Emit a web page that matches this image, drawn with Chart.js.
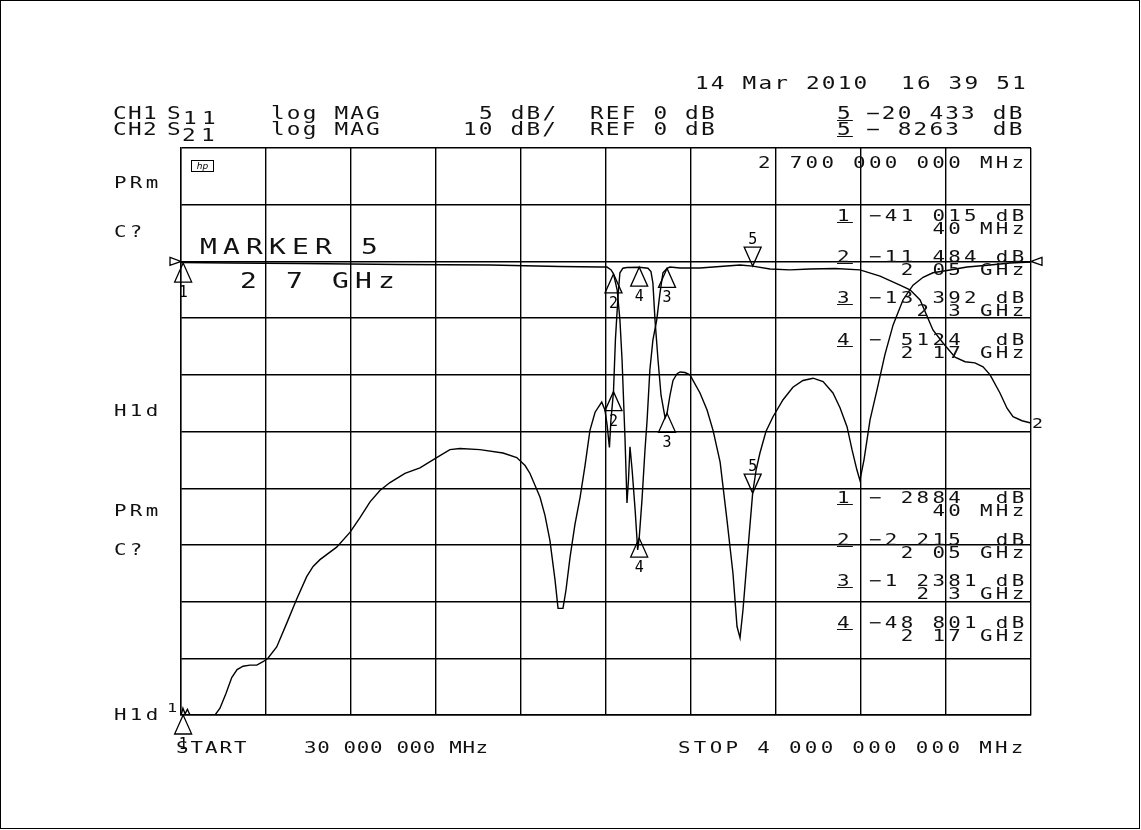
<!DOCTYPE html>
<html>
<head>
<meta charset="utf-8">
<script src="https://cdn.jsdelivr.net/npm/chart.js@4.4.0/dist/chart.umd.min.js"></script>
<style>
  html, body { margin: 0; padding: 0; background: #fff; }
  #wrap { position: relative; width: 1141px; height: 830px; overflow: hidden; }
  #frame { position: absolute; left: 0; top: 0; width: 1138px; height: 827px; border: 1px solid #000; }
  canvas { position: absolute; left: 0; top: 0; }
  .t { position: absolute; font-family: "DejaVu Sans Mono", monospace; white-space: pre; color: #111; transform-origin: 0 0; }
  .u { text-decoration: underline; text-underline-offset: 1px; }
  #hp { position: absolute; left: 191px; top: 160px; width: 21px; height: 10px; border: 1px solid #000;
        font: italic 9px "DejaVu Sans"; line-height: 10px; text-align: center; }
</style>
</head>
<body>
<div id="wrap">
  <canvas id="chart" width="1141" height="830"></canvas>
  <div id="frame"></div>
  <div id="hp">hp</div>
</div>
<script>
// sweep: 30 MHz .. 4 GHz, both traces referenced to 0 dB
const startMHz = 30;
const stopMHz = 4000;

// CH1 S11 (5 dB/div)
const s11Freq = [32, 39, 49, 60, 72, 189, 212, 240, 267, 292, 320, 352, 384, 413, 436, 477, 524, 570, 617, 647,
  679, 757, 819, 866, 913, 959, 1006, 1076, 1146, 1224, 1286, 1333, 1426, 1534, 1598, 1637, 1660, 1707, 1730, 1753,
  1777, 1791, 1814, 1828, 1847, 1870, 1894, 1917, 1940, 1964, 1995, 2010, 2020, 2031, 2038, 2050, 2059, 2071, 2080, 2094,
  2113, 2170, 2211, 2225, 2234, 2244, 2258, 2272, 2291, 2300, 2314, 2328, 2347, 2361, 2384, 2407, 2454, 2487, 2515, 2548,
  2580, 2608, 2627, 2641, 2655, 2674, 2700, 2716, 2734, 2762, 2795, 2842, 2888, 2935, 2982, 3029, 3075, 3108, 3141, 3164,
  3187, 3201, 3220, 3248, 3281, 3318, 3356, 3402, 3449, 3496, 3542, 3622, 3701, 3809, 3902, 4000];
const s11dB = [-39.9, -39.4, -39.9, -39.5, -40, -40, -39.4, -38.1, -36.7, -36.0, -35.7, -35.6, -35.6, -35.3, -35.0, -34.0, -31.9, -29.8, -27.8, -26.9,
  -26.3, -25.2, -23.9, -22.6, -21.2, -20.2, -19.5, -18.7, -18.2, -17.3, -16.6, -16.5, -16.6, -16.9, -17.3, -18.0, -18.7, -20.8, -22.4, -24.6,
  -28.1, -30.6, -30.6, -29.0, -26.1, -23.2, -20.8, -18.0, -14.9, -13.3, -12.4, -13.1, -14.4, -16.4, -14.0, -11.484, -6.9, -3.1, -1.0, -0.6,
  -0.54, -0.5124, -0.6, -0.9, -1.9, -5.2, -8.7, -11.8, -13.8, -13.392, -11.8, -10.5, -9.9, -9.75, -9.8, -10.0, -11.6, -13.1, -14.9, -17.7,
  -22.8, -27.5, -32.2, -33.2, -30.7, -26.3, -20.433, -18.4, -16.9, -15.0, -13.7, -12.2, -11.1, -10.5, -10.3, -10.6, -11.6, -12.9, -14.6, -16.6,
  -18.4, -19.3, -17.5, -14.0, -11.3, -8.2, -5.6, -3.4, -2.1, -1.4, -1.0, -0.76, -0.49, -0.32, -0.14, -0.05];

// CH2 S21 (10 dB/div)
const s21Freq = [30, 259, 586, 1053, 1473, 1800, 1987, 2020, 2039, 2050, 2067, 2080, 2090, 2104, 2113, 2120, 2127, 2137, 2151, 2163,
  2170, 2183, 2197, 2207, 2220, 2234, 2252, 2267, 2281, 2300, 2314, 2361, 2454, 2547, 2641, 2700, 2781, 2874, 2968, 3085,
  3201, 3295, 3388, 3435, 3482, 3542, 3589, 3645, 3692, 3738, 3776, 3809, 3855, 3888, 3916, 3958, 4000];
const s21dB = [-0.19, -0.28, -0.37, -0.55, -0.63, -0.9, -0.99, -1.0, -1.5, -2.215, -5.0, -10.3, -17.4, -31.5, -42.6, -38.5, -32.7, -36.8, -43.8, -50.9,
  -48.801, -42.1, -33.3, -28.0, -19.1, -13.9, -10.3, -5.6, -2.0, -1.2381, -0.99, -1.16, -1.16, -0.9, -0.63, -0.8263, -1.34, -1.5, -1.34, -1.25,
  -1.5, -2.6, -4.2, -5.0, -6.8, -12.1, -14.4, -16.9, -17.7, -17.9, -18.6, -20.0, -23.2, -25.9, -27.4, -28.1, -28.5];

// markers 1..5 (5 is the active one)
const markerFreq = [40, 2050, 2300, 2170, 2700];
const s11Mark = [-41.015, -11.484, -13.392, -0.5124, -20.433];
const s21Mark = [-0.2884, -2.215, -1.2381, -48.801, -0.8263];

// readout text, as printed by the analyser
const ch1Read = ["−41 015 dB", "−11 484 dB", "−13 392 dB", "− 5124  dB"];
const ch2Read = ["− 2884  dB", "−2 215  dB", "−1 2381 dB", "−48 801 dB"];
const freqRead = ["    40 MHz", "  2 05 GHz", "   2 3 GHz", "  2 17 GHz"];

const wrap = document.getElementById("wrap");
// plotter-like text: monospace glyphs stretched sideways, fixed character cell
function put(text, x, capTop, size, cell, cls, k) {
  k = k || 1.3;
  const d = document.createElement("div");
  d.className = "t" + (cls ? " " + cls : "");
  d.textContent = text;
  d.style.left = x + "px";
  d.style.top = (capTop - 0.117 * size) + "px";
  d.style.fontSize = size + "px";
  d.style.lineHeight = size + "px";
  d.style.letterSpacing = (cell / k - 0.602 * size) + "px";
  d.style.transform = "scaleX(" + k + ")";
  wrap.appendChild(d);
}

const C = 15.85;

// header
put("14 Mar 2010  16 39 51", 695, 77, 17.5, C);
put("CH1", 113, 107, 17.5, 15);
put("S", 167, 107, 17.5, C);
put("11", 183, 112, 17.5, 19);
put("log MAG", 271, 107, 17.5, C);
put("5 dB/", 479, 107, 17.5, C);
put("REF 0 dB", 590, 107, 17.5, C);
put("5", 837, 107, 17.5, C, "u");
put("−20 433 dB", 866, 107, 17.5, C);
put("CH2", 113, 123.5, 17.5, 15);
put("S", 167, 123.5, 17.5, C);
put("21", 182, 129, 17.5, 19);
put("log MAG", 271, 123.5, 17.5, C);
put("10 dB/", 463, 123.5, 17.5, C);
put("REF 0 dB", 590, 123.5, 17.5, C);
put("5", 837, 123.5, 17.5, C, "u");
put("− 8263  dB", 866, 123.5, 17.5, C);

// left annotations
put("PRm", 114, 177, 16, C);
put("C?", 114, 226, 16, C);
put("H1d", 114, 405, 16, C);
put("PRm", 114, 505, 16, C);
put("C?", 114, 544, 16, C);
put("H1d", 114, 709, 16, C);
put("1", 167, 703, 13, 10);

// inside graticule
put("2 700 000 000 MHz", 758, 157, 16, C);
put("MARKER 5", 200, 238.5, 21.5, 23);
put("2 7 GHz", 240, 273, 21.5, 23);
put("2", 1032, 418, 14, 10);

const ch1Top = [210, 250.5, 292, 334];
const ch2Top = [492, 533.5, 575, 617];
ch1Read.forEach((s, i) => {
  put(String(i + 1), 837, ch1Top[i], 16, C, "u");
  put(s, 869, ch1Top[i], 16, C);
  put(freqRead[i], 869, ch1Top[i] + 13.3, 16, C);
});
ch2Read.forEach((s, i) => {
  put(String(i + 1), 837, ch2Top[i], 16, C, "u");
  put(s, 869, ch2Top[i], 16, C);
  put(freqRead[i], 869, ch2Top[i] + 13.3, 16, C);
});

// footer
put("START", 176, 742, 16, 14.5);
put("30 000 000 MHz", 304, 742, 16, 13.2);
put("STOP 4 000 000 000 MHz", 678, 742, 16, C);

function drawMarker(ctx, px, py, active, label) {
  ctx.beginPath();
  if (active) {
    ctx.moveTo(px, py);
    ctx.lineTo(px - 8.5, py - 19);
    ctx.lineTo(px + 8.5, py - 19);
  } else {
    ctx.moveTo(px, py);
    ctx.lineTo(px - 8.5, py + 19);
    ctx.lineTo(px + 8.5, py + 19);
  }
  ctx.closePath();
  ctx.stroke();
  ctx.fillText(label, px, active ? py - 22 : py + 34);
}

const markerPlugin = {
  id: "markers",
  afterDatasetsDraw(chart) {
    const { ctx, chartArea: a, scales } = chart;
    ctx.save();
    ctx.strokeStyle = "#000";
    ctx.fillStyle = "#000";
    ctx.lineWidth = 1.3;
    ctx.font = '15px "DejaVu Sans Mono"';
    ctx.textAlign = "center";
    ctx.textBaseline = "alphabetic";
    markerFreq.forEach((f, i) => {
      const px = scales.x.getPixelForValue(f);
      const active = i === markerFreq.length - 1;
      [[scales.y1, s11Mark[i]], [scales.y2, s21Mark[i]]].forEach(([sc, v]) => {
        const py = Math.min(a.bottom, Math.max(a.top, sc.getPixelForValue(v)));
        drawMarker(ctx, px, py, active, String(i + 1));
      });
    });
    // reference position arrows (0 dB)
    const ry = scales.y1.getPixelForValue(0);
    ctx.beginPath();
    ctx.moveTo(a.left - 11, ry - 4);
    ctx.lineTo(a.left, ry);
    ctx.lineTo(a.left - 11, ry + 4);
    ctx.closePath();
    ctx.moveTo(a.right + 11, ry - 4);
    ctx.lineTo(a.right, ry);
    ctx.lineTo(a.right + 11, ry + 4);
    ctx.closePath();
    ctx.stroke();
    ctx.restore();
  }
};

const gridOpts = { color: "#000", lineWidth: 1.4, drawTicks: false };
const borderOpts = { color: "#000", width: 1.4 };

new Chart(document.getElementById("chart"), {
  type: "line",
  data: {
    datasets: [
      {
        label: "S11",
        data: s11Freq.map((f, i) => ({ x: f, y: s11dB[i] })),
        yAxisID: "y1",
        borderColor: "#000",
        borderWidth: 1.4,
        pointRadius: 0,
        tension: 0
      },
      {
        label: "S21",
        data: s21Freq.map((f, i) => ({ x: f, y: s21dB[i] })),
        yAxisID: "y2",
        borderColor: "#000",
        borderWidth: 1.4,
        pointRadius: 0,
        tension: 0
      }
    ]
  },
  options: {
    responsive: false,
    animation: false,
    devicePixelRatio: 1,
    layout: { padding: { left: 181, top: 148, right: 110, bottom: 115 } },
    plugins: { legend: { display: false }, tooltip: { enabled: false } },
    scales: {
      x: {
        type: "linear",
        min: startMHz,
        max: stopMHz,
        afterBuildTicks: (s) => {
          s.ticks = Array.from({ length: 11 }, (_, i) => ({ value: startMHz + i * (stopMHz - startMHz) / 10 }));
        },
        ticks: { display: false },
        grid: gridOpts,
        border: borderOpts
      },
      y1: {
        position: "left",
        min: -40,
        max: 10,
        ticks: { display: false, stepSize: 5 },
        grid: gridOpts,
        border: borderOpts
      },
      y2: {
        position: "right",
        min: -80,
        max: 20,
        display: false
      }
    }
  },
  plugins: [markerPlugin]
});
</script>
</body>
</html>
